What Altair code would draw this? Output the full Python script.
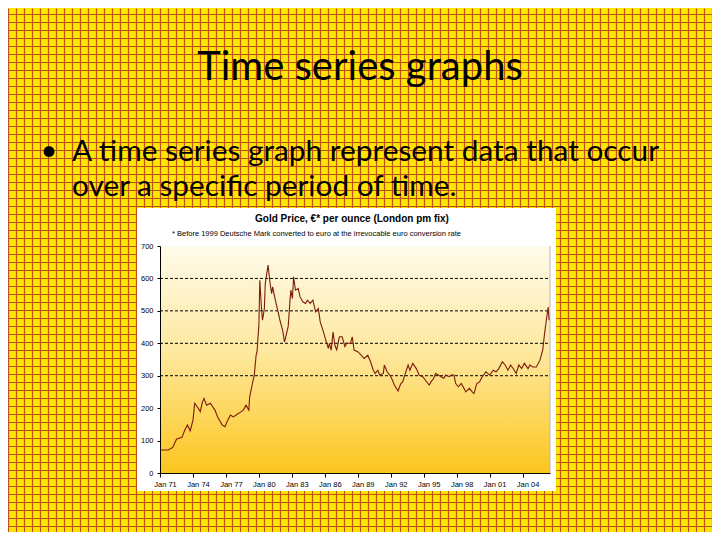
import altair as alt
import pandas as pd

# ---------------- data ----------------
dates = [
    "1971-01-01", "1971-10-01", "1972-03-01", "1972-07-01", "1973-01-01", "1973-04-01",
    "1973-07-01", "1973-10-01", "1974-01-01", "1974-03-01", "1974-07-01", "1974-09-01",
    "1974-11-01", "1975-01-01", "1975-04-01", "1975-08-01", "1976-01-01", "1976-04-01",
    "1976-09-01", "1976-12-01", "1977-03-01", "1977-06-01", "1977-09-01", "1978-03-01",
    "1978-08-01", "1978-11-01", "1979-02-01", "1979-03-01", "1979-06-01", "1979-08-01",
    "1979-10-01", "1979-11-01", "1980-01-01", "1980-02-01", "1980-04-01", "1980-05-01",
    "1980-07-01", "1980-08-01", "1980-11-01", "1981-01-01", "1981-03-01", "1981-04-01",
    "1981-07-01", "1981-10-01", "1981-12-01", "1982-03-01", "1982-05-01", "1982-06-01",
    "1982-08-01", "1982-09-01", "1982-11-01", "1982-12-01", "1983-01-20", "1983-03-01",
    "1983-05-01", "1983-08-01", "1983-10-01", "1984-01-01", "1984-04-01", "1984-06-01",
    "1984-09-01", "1984-12-01", "1985-03-01", "1985-06-01", "1985-08-01", "1985-11-01",
    "1986-02-01", "1986-05-01", "1986-06-01", "1986-08-01", "1986-10-01", "1986-12-01",
    "1987-02-01", "1987-05-01", "1987-08-01", "1987-11-01", "1988-01-01", "1988-05-01",
    "1988-07-01", "1988-09-01", "1989-01-01", "1989-05-01", "1989-08-01", "1989-12-01",
    "1990-03-01", "1990-06-01", "1990-08-01", "1990-11-01", "1991-01-01", "1991-05-01",
    "1991-06-01", "1991-09-01", "1991-12-01", "1992-03-01", "1992-05-01", "1992-09-01",
    "1992-12-01", "1993-02-01", "1993-05-01", "1993-08-01", "1993-10-01", "1994-01-01",
    "1994-05-01", "1994-08-01", "1994-12-01", "1995-03-01", "1995-07-01", "1995-09-01",
    "1995-12-01", "1996-02-01", "1996-05-01", "1996-08-01", "1996-11-01", "1997-01-01",
    "1997-05-01", "1997-07-01", "1997-10-01", "1997-12-01", "1998-03-01", "1998-06-01",
    "1998-09-01", "1998-11-01", "1999-03-01", "1999-06-01", "1999-08-01", "1999-11-01",
    "2000-02-01", "2000-05-01", "2000-09-01", "2001-01-01", "2001-05-01", "2001-08-01",
    "2001-11-01", "2002-03-01", "2002-06-01", "2002-09-01", "2002-12-01", "2003-04-01",
    "2003-06-01", "2003-09-01", "2003-12-01", "2004-03-01", "2004-07-01", "2004-09-01",
    "2004-12-01", "2005-04-01", "2005-08-01", "2005-11-01", "2006-01-01", "2006-03-01",
    "2006-05-01", "2006-06-01",
]
prices = [
    71, 71, 79, 104, 110, 132,
    148, 130, 163, 215, 199, 189,
    215, 230, 209, 215, 194, 173,
    148, 143, 163, 179, 173, 184,
    194, 209, 194, 235, 276, 302,
    363, 374, 456, 594, 502, 471,
    507, 584, 641, 589, 553, 574,
    533, 497, 471, 440, 404, 415,
    440, 451, 533, 564, 538, 605,
    564, 569, 543, 528, 523, 533,
    523, 533, 497, 507, 466, 440,
    410, 384, 400, 379, 435, 394,
    380, 420, 420, 390, 400, 400,
    420, 379, 374, 363, 353, 363,
    343, 317, 307, 317, 302, 307,
    333, 312, 302, 286, 271, 253,
    276, 281, 307, 333, 317, 338,
    322, 302, 297, 286, 271, 281,
    292, 307, 302, 297, 292, 302,
    297, 302, 302, 276, 266, 276,
    261, 250, 261, 250, 245, 276,
    281, 297, 312, 302, 317, 312,
    322, 343, 333, 317, 333, 317,
    307, 333, 322, 338, 322, 333,
    327, 327, 348, 379, 430, 471,
    512, 471,
]
grid_levels = [300, 400, 500, 600]
y_tick_values = [0, 100, 200, 300, 400, 500, 600, 700]
x_tick_years = list(range(1971, 2005, 3))

slide_title = ["Time series graphs"]
bullet_line1 = ["A time series graph represent data that occur"]
bullet_line2 = ["over a specific period of time."]
bullet_mark = ["\u2022"]
chart_title = ["Gold Price, \u20ac* per ounce (London pm fix)"]
chart_note = ["* Before 1999 Deutsche Mark converted to euro at the irrevocable euro conversion rate"]

# ---------------- layout (pixels) ----------------
W, H = 704, 524          # svg size (page minus 8px margins)
M = 8                    # page margin


def px(x):
    return x - M


def py(y):
    return y - M


PL, PR, PT, PB = px(160), px(550), py(246), py(473)
BG_YELLOW = "#fee600"
GRID_RED = "#c0501a"

# ---------------- background grid (slide texture) ----------------
bg = alt.Chart(pd.DataFrame({"gx": [0], "gy": [0]})).mark_point(opacity=0).encode(
    x=alt.X("gx:Q", scale=alt.Scale(domain=[0, W], range=[0, W]),
            axis=alt.Axis(values=list(range(0, W + 1, 8)), grid=True, gridColor=GRID_RED,
                          gridWidth=1.2, gridOpacity=1, labels=False, ticks=False,
                          domain=False, title=None, orient="bottom")),
    y=alt.Y("gy:Q", scale=alt.Scale(domain=[0, H], range=[0, H]),
            axis=alt.Axis(values=[6 + 8 * k for k in range(0, H // 8 + 1)], grid=True,
                          gridColor=GRID_RED, gridWidth=1.2, gridOpacity=1, labels=False,
                          ticks=False, domain=False, title=None, orient="left")),
)

one = pd.DataFrame({"k": [0]})

white_box = alt.Chart(one).mark_rect(color="white").encode(
    x=alt.value(px(137)), x2=alt.value(px(556)), y=alt.value(py(208)), y2=alt.value(py(491))
)

plot_bg = alt.Chart(one).mark_rect(
    color=alt.Gradient(
        gradient="linear",
        stops=[alt.GradientStop(color="#fffbea", offset=0),
               alt.GradientStop(color="#fee9a2", offset=0.45),
               alt.GradientStop(color="#fcc61e", offset=1)],
        x1=0, x2=0, y1=0, y2=1,
    )
).encode(x=alt.value(PL), x2=alt.value(PR), y=alt.value(PT), y2=alt.value(PB))

right_edge = alt.Chart(one).mark_rule(color="#b8b8b8", strokeWidth=1).encode(
    x=alt.value(PR), y=alt.value(PT), y2=alt.value(PB)
)

xs = alt.Scale(type="utc",
               domain=[alt.DateTime(year=1971, month=1, date=1, utc=True),
                       alt.DateTime(year=2006, month=7, date=1, utc=True)],
               range=[PL, PR])
ys = alt.Scale(domain=[0, 700], range=[PB, PT])

grid_rules = alt.Chart(pd.DataFrame({"level": grid_levels})).mark_rule(
    color="black", strokeDash=[3, 2], strokeWidth=1
).encode(
    y=alt.Y("level:Q", scale=ys, axis=None),
    x=alt.value(PL), x2=alt.value(PR),
)

gold = pd.DataFrame({"date": dates, "price": prices})
line = alt.Chart(gold).mark_line(color="#7d1b0b", strokeWidth=1.1).encode(
    x=alt.X("date:T", scale=xs,
            axis=alt.Axis(orient="bottom", offset=-(H - PB),
                          values=[alt.DateTime(year=y, month=1, date=1, utc=True) for y in x_tick_years],
                          format="%b %y", labelFontSize=7.5, labelFont="Liberation Sans",
                          labelColor="black", labelOffset=5, labelPadding=3, tickSize=4,
                          labelOverlap=False, labelFlush=False,
                          tickColor="black", domainColor="black", grid=False, title=None,
                          zindex=1)),
    y=alt.Y("price:Q", scale=ys,
            axis=alt.Axis(orient="left", offset=-PL, values=y_tick_values,
                          labelFontSize=7.5, labelFont="Liberation Sans", labelColor="black",
                          labelOverlap=False, labelFlush=False,
                          labelPadding=4, tickSize=3, tickColor="black", domainColor="black",
                          grid=False, title=None, zindex=1)),
)


def text_layer(values, x, y, size, font="Lato", weight="normal", align="center"):
    return alt.Chart(pd.DataFrame({"t": values})).mark_text(
        font=font, fontSize=size, fontWeight=weight, align=align, baseline="middle",
        color="black"
    ).encode(x=alt.value(x), y=alt.value(y), text="t:N")


t_title = text_layer(slide_title, px(360), py(68), 40)
t_bullet = text_layer(bullet_mark, px(49), py(151), 29)
t_line1 = text_layer(bullet_line1, px(72), py(152), 29.8, align="left")
t_line2 = text_layer(bullet_line2, px(72), py(187), 29.8, align="left")
t_ctitle = text_layer(chart_title, px(352), py(219), 10, font="Liberation Sans", weight="bold")
t_note = text_layer(chart_note, px(172), py(234), 7.5, font="Liberation Sans", align="left")

chart = alt.layer(
    bg, white_box, plot_bg, right_edge, grid_rules, line,
    t_title, t_bullet, t_line1, t_line2, t_ctitle, t_note,
).resolve_scale(x="independent", y="independent").properties(
    width=W, height=H, padding=0, background=BG_YELLOW,
    autosize=alt.AutoSizeParams(type="none"),
).configure_view(stroke=None)

chart.save("out.html", embed_options={"renderer": "svg", "actions": False})
